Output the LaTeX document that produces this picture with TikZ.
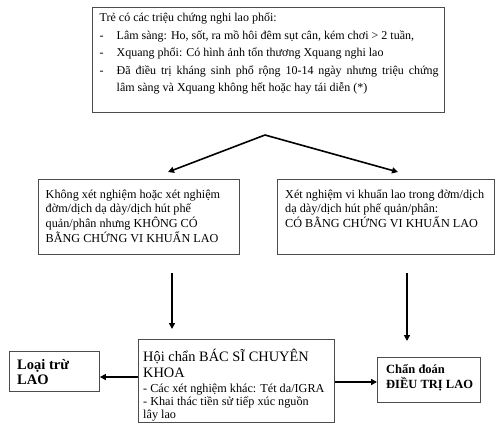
\documentclass[tikz,border=0pt]{standalone}
\usepackage{fontspec}
\setmainfont{Liberation Serif}
\usetikzlibrary{arrows.meta}
\begin{document}
\begin{tikzpicture}[x=1pt,y=-1pt,
  box/.style={draw=black!70, line width=0.9pt, inner sep=0pt, anchor=north west},
  txt/.style={inner sep=0pt, anchor=north west, align=left},
  arr/.style={line width=1.6pt, -{Triangle[length=6pt,width=6pt]}}]
\useasboundingbox (0,0) rectangle (500,424);
% boxes
\node[box, minimum width=352, minimum height=105] (top) at (92,7) {};
\node[box, minimum width=201, minimum height=75] (lbox) at (38,179) {};
\node[box, minimum width=217, minimum height=75] (rbox) at (277,179) {};
\node[box, minimum width=196, minimum height=83] (ctr) at (138,339) {};
\node[box, minimum width=90, minimum height=40] (loai) at (9,351) {};
\node[box, minimum width=103, minimum height=45] (cd) at (377,357) {};
% texts
\node[txt, font=\fontsize{12}{17.5}\selectfont] (topt) at (99.5,9.5) {%
\begin{tabular}{@{}p{17pt}@{}l@{}}
\multicolumn{2}{@{}l@{}}{Trẻ có các triệu chứng nghi lao phổi:}\\
-& Lâm sàng: Ho, sốt, ra mồ hôi đêm sụt cân, kém chơi > 2 tuần,\\
-& Xquang phổi: Có hình ảnh tổn thương Xquang nghi lao\\
-& \makebox[322pt][s]{Đã điều trị kháng sinh phổ rộng 10-14 ngày nhưng triệu chứng}\\
 & lâm sàng và Xquang không hết hoặc hay tái diễn (*)
\end{tabular}};
\node[txt, font=\fontsize{12.2}{13.8}\selectfont] (lt) at (45.5,188.8) {%
\begin{tabular}{@{}l@{}}
Không xét nghiệm hoặc xét nghiệm\\
đờm/dịch dạ dày/dịch hút phế\\
quản/phân nhưng KHÔNG CÓ\\
BẰNG CHỨNG VI KHUẨN LAO
\end{tabular}};
\node[txt, font=\fontsize{12.2}{13.8}\selectfont] (rt) at (285,188.8) {%
\begin{tabular}{@{}l@{}}
Xét nghiệm vi khuẩn lao trong đờm/dịch\\
dạ dày/dịch hút phế quản/phân:\\
CÓ BẰNG CHỨNG VI KHUẨN LAO
\end{tabular}};
\node[txt, font=\fontsize{12.2}{13}\selectfont] (ct) at (143,348.5) {%
\begin{tabular}{@{}l@{}}
{\fontsize{14.4}{16}\selectfont Hội chẩn BÁC SĨ CHUYÊN}\\[3pt]
{\fontsize{14.4}{16}\selectfont KHOA}\\[2pt]
- Các xét nghiệm khác: Tét da/IGRA\\
- Khai thác tiền sử tiếp xúc nguồn\\
lây lao
\end{tabular}};
\node[txt, font=\fontsize{14.5}{15}\selectfont\bfseries] (lot) at (17,358.5) {%
\begin{tabular}{@{}l@{}}
Loại trừ\\
LAO
\end{tabular}};
\node[txt, font=\fontsize{12.5}{14}\selectfont\bfseries] (cdt) at (386,363.2) {%
\begin{tabular}{@{}l@{}}
Chẩn đoán\\
ĐIỀU TRỊ LAO
\end{tabular}};
% connectors
\coordinate (apex) at (265,135);
\coordinate (ltip) at (168,172);
\coordinate (rtip) at (398,172);
\draw[arr] (apex) -- (ltip);
\draw[arr] (apex) -- (rtip);
\coordinate (l1) at (172,273);
\coordinate (l2) at (172,329);
\coordinate (r1) at (407,273);
\coordinate (r2) at (407,341);
\draw[arr] (l1) -- (l2);
\draw[arr] (r1) -- (r2);
\draw[arr] (ctr.west |- 0,377) -- (loai.east |- 0,377);
\draw[arr] (ctr.east |- 0,382) -- (cd.west |- 0,382);
\end{tikzpicture}
\end{document}
